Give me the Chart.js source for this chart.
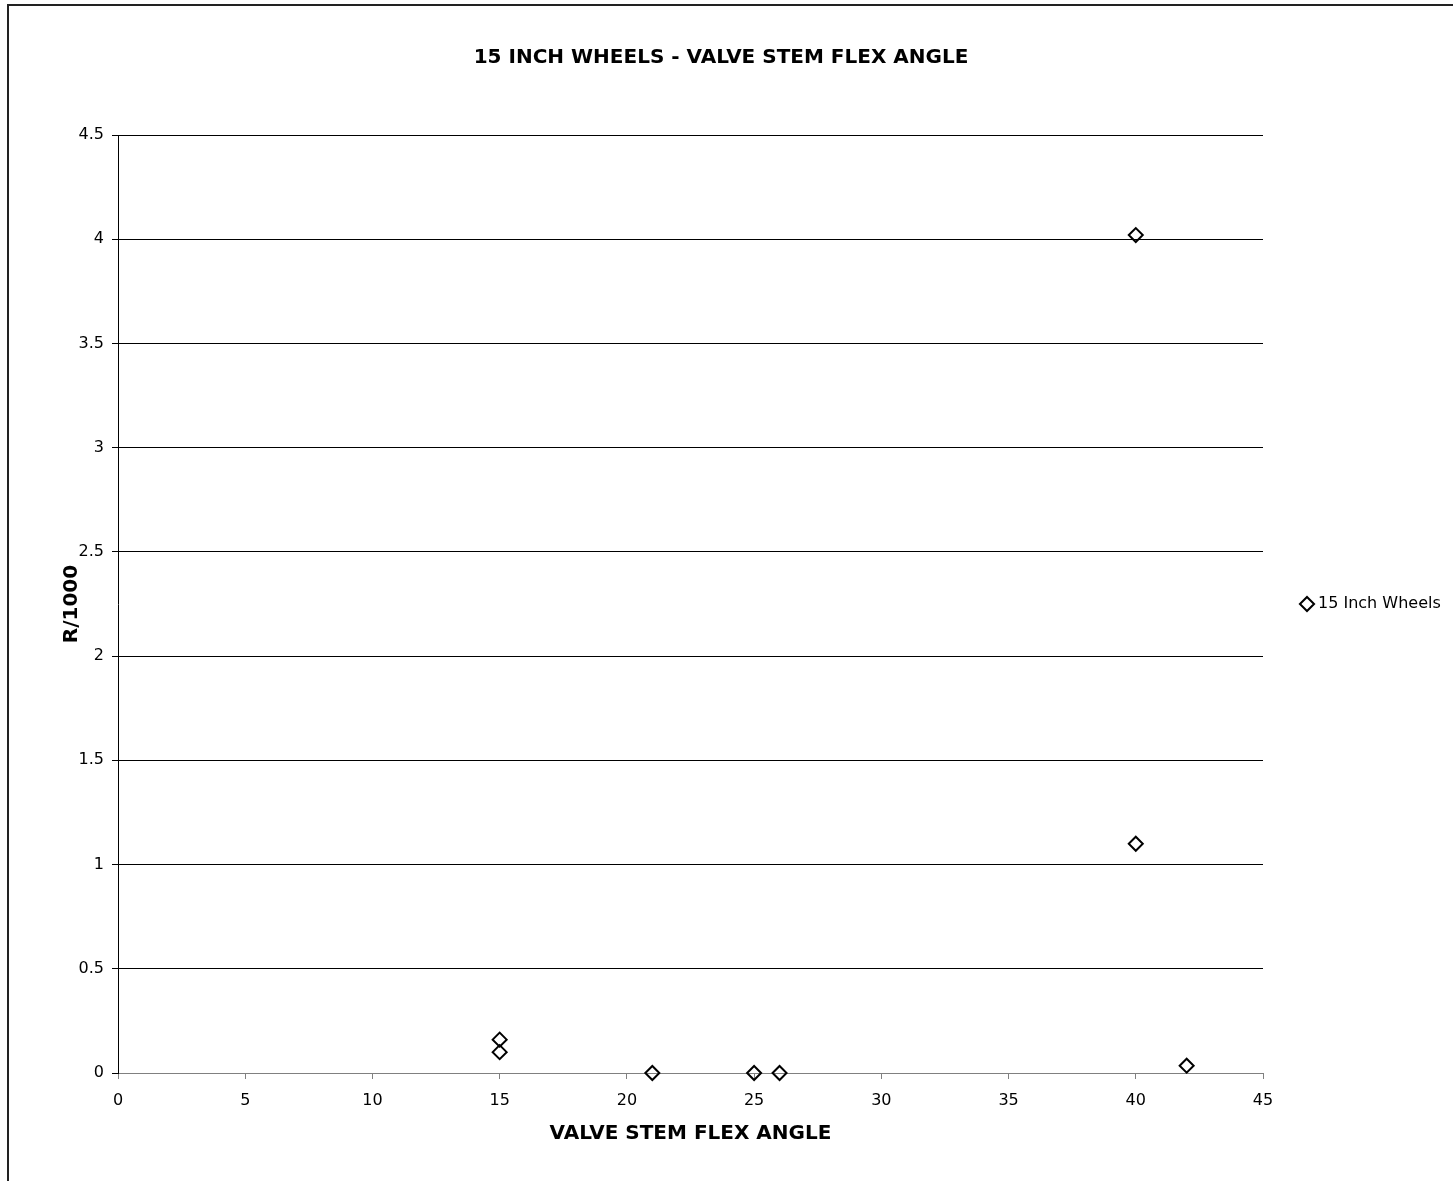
<!DOCTYPE html>
<html>
<head>
<meta charset="utf-8">
<title>15 Inch Wheels - Valve Stem Flex Angle</title>
<script src="https://cdn.jsdelivr.net/npm/chart.js@4.4.1/dist/chart.umd.min.js"></script>
<style>
    html, body { margin: 0; padding: 0; background: #fff; overflow: hidden; }
    #frame { position: absolute; left: 7px; top: 4px; width: 1500px; height: 1300px; border: 2px solid #222; }
    #chart { position: absolute; left: 0; top: 0; }
</style>
</head>
<body>
<div id="frame"></div>
<canvas id="chart" width="1453" height="1181"></canvas>
<script>
// --- Data ---
const seriesName = '15 Inch Wheels';
const flexAngle = [15, 15, 21, 25, 26, 40, 40, 42];
const rPer1000 = [0.16, 0.1, 0, 0, 0, 4.02, 1.1, 0.035];
const xTicks = [0, 5, 10, 15, 20, 25, 30, 35, 40, 45];
const yTicks = [0, 0.5, 1, 1.5, 2, 2.5, 3, 3.5, 4, 4.5];

Chart.defaults.font.family = "'DejaVu Sans', sans-serif";
Chart.defaults.color = '#000';

const AXIS_GREY = '#808080';

const ctx = document.getElementById('chart').getContext('2d');
new Chart(ctx, {
    type: 'scatter',
    data: {
        datasets: [{
            label: seriesName,
            data: flexAngle.map((x, i) => ({ x: x, y: rPer1000[i] })),
            pointStyle: 'rectRot',
            pointRadius: 7,
            pointHoverRadius: 7,
            borderWidth: 2,
            borderColor: '#000',
            backgroundColor: 'rgba(0,0,0,0)',
            clip: false
        }]
    },
    options: {
        responsive: false,
        animation: false,
        devicePixelRatio: 1,
        layout: { padding: { left: -6, right: 5, top: 0, bottom: 0 } },
        plugins: {
            title: {
                display: true,
                text: '15 INCH WHEELS - VALVE STEM FLEX ANGLE',
                font: { size: 20, weight: 'bold' },
                color: '#000',
                padding: { top: 46, bottom: 65 }
            },
            legend: {
                position: 'right',
                fullSize: false,
                maxWidth: 185,
                labels: {
                    usePointStyle: true,
                    boxWidth: 6,
                    boxHeight: 10,
                    padding: 41,
                    color: '#000',
                    font: { size: 16 }
                }
            },
            tooltip: { enabled: false }
        },
        scales: {
            x: {
                type: 'linear',
                min: 0,
                max: 45,
                afterBuildTicks: s => { s.ticks = xTicks.map(v => ({ value: v })); },
                afterFit: s => { s.height = 108; },
                ticks: {
                    font: { size: 16 },
                    color: '#000',
                    padding: 12,
                    maxRotation: 0,
                    callback: v => String(v)
                },
                grid: {
                    drawOnChartArea: false,
                    tickLength: 6,
                    tickColor: AXIS_GREY
                },
                border: { display: true, color: AXIS_GREY, width: 1 },
                title: {
                    display: true,
                    text: 'VALVE STEM FLEX ANGLE',
                    font: { size: 20, weight: 'bold' },
                    color: '#000',
                    padding: { top: 0, bottom: 35 }
                }
            },
            y: {
                type: 'linear',
                min: 0,
                max: 4.5,
                afterBuildTicks: s => { s.ticks = yTicks.map(v => ({ value: v })); },
                afterFit: s => { s.width = 124; },
                ticks: {
                    font: { size: 16 },
                    color: '#000',
                    padding: 8,
                    callback: v => String(v)
                },
                grid: {
                    color: c => (c.tick && c.tick.value === 0) ? AXIS_GREY : '#000',
                    lineWidth: 1,
                    tickLength: 6,
                    tickColor: '#000'
                },
                border: { display: true, color: '#000', width: 1 },
                title: {
                    display: true,
                    text: 'R/1000',
                    font: { size: 20, weight: 'bold' },
                    color: '#000',
                    padding: { top: 66, bottom: 0 }
                }
            }
        }
    }
});
</script>
</body>
</html>
